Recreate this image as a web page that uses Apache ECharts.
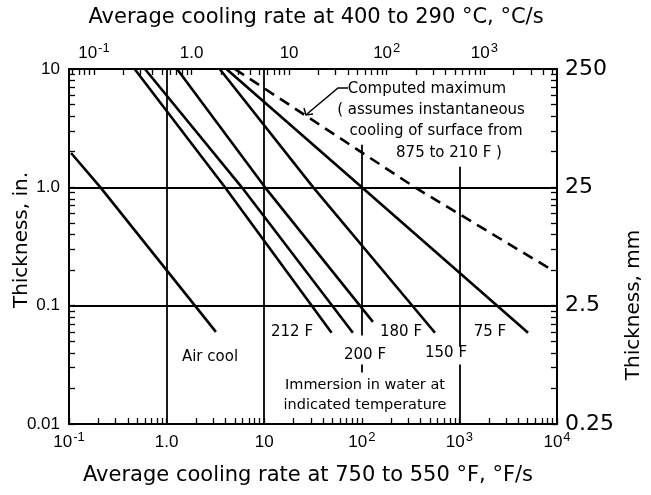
<!DOCTYPE html>
<html><head><meta charset="utf-8">
<script src="https://cdn.jsdelivr.net/npm/echarts@6/dist/echarts.min.js"></script>
<style>html,body{margin:0;padding:0;background:#fff}#c{width:651px;height:495px}</style>
</head><body><div id="c"></div>
<script>
// ---- data: average cooling rate (°F/s) vs thickness (in.) ----
const airCoolRate  = [0.105, 0.21, 3.2];
const airCoolThick = [1.95, 1.0, 0.06];
const w212Rate  = [0.47, 3.96, 49];
const w212Thick = [10, 1.0, 0.059];
const w200Rate  = [0.60, 5.9, 81];
const w200Thick = [10, 1.0, 0.059];
const w180Rate  = [1.28, 10.2, 130];
const w180Thick = [10, 1.0, 0.073];
const w150Rate  = [3.5, 31.8, 562];
const w150Thick = [10, 1.0, 0.059];
const w75Rate   = [4.1, 100, 5050];
const w75Thick  = [10, 1.0, 0.059];
const maxRate   = [5.0, 350, 8900];
const maxThick  = [10, 1.0, 0.2];

// ---- tick labels ----
const bottomTicks = [0.1, 1, 10, 100, 1000, 10000];
const bottomTickLabels = ['10|-1', '1.0', '10', '10|2', '10|3', '10|4'];
const topTicks = [0.1, 1, 10, 100, 1000];            // °C/s
const topTickLabels = ['10|-1', '1.0', '10', '10|2', '10|3'];
const leftTicks = [0.01, 0.1, 1, 10];
const leftTickLabels = ['0.01', '0.1', '1.0', '10'];
const rightTickLabels = ['0.25', '2.5', '25', '250'];

const NUMF = '"Liberation Sans", Arial, sans-serif';
const TXTF = '"DejaVu Sans", sans-serif';
const F_TO_C = 1 / 1.8;

function pair(xs, ys) { return xs.map((x, i) => [x, ys[i]]); }
function idxOf(arr, v) {
  let best = 0, bd = Infinity;
  arr.forEach((a, i) => { const d = Math.abs(Math.log10(a) - Math.log10(v)); if (d < bd) { bd = d; best = i; } });
  return best;
}
function rich(lbl) {
  const p = lbl.split('|');
  return p.length > 1 ? '{b|' + p[0] + '}{s|' + p[1] + '}' : '{b|' + p[0] + '}';
}
function logMinor(lo, hi) {
  const out = [];
  for (let e = Math.floor(Math.log10(lo)) - 1; e <= Math.ceil(Math.log10(hi)); e++) {
    for (let k = 1; k <= 9; k++) {
      const v = k * Math.pow(10, e);
      if (v >= lo * 0.9999 && v <= hi * 1.0001) out.push(v);
    }
  }
  return out;
}
const richStyle = {
  b: { fontSize: 17, fontFamily: NUMF, color: '#000', lineHeight: 22 },
  s: { fontSize: 13, fontFamily: NUMF, color: '#000', lineHeight: 22, verticalAlign: 'top', padding: [0, 0, 14, 1] }
};

const topMin = Math.log10(0.1 * F_TO_C), topMax = Math.log10(10000 * F_TO_C);
const topMinor = logMinor(0.1 * F_TO_C, 10000 * F_TO_C).map(v => Math.log10(v));

const axisLineStyle = { show: true, onZero: false, lineStyle: { color: '#000', width: 2 } };
const tickStyle = { color: '#000', width: 1.3 };
const solid = (name, xs, ys) => ({
  name, type: 'line', data: pair(xs, ys), showSymbol: false, symbol: 'none', z: 5,
  lineStyle: { color: '#000', width: 2.6 }
});
const txt = (s, x, y, size, extra) => Object.assign({
  type: 'text', z: 100, x, y,
  style: { text: s, font: size + 'px ' + TXTF, fill: '#000', align: 'center', verticalAlign: 'middle' }
}, extra || {});

const chart = echarts.init(document.getElementById('c'), null, { renderer: 'canvas' });
chart.setOption({
  backgroundColor: '#fff',
  animation: false,
  grid: { left: 69, right: 94, top: 69, bottom: 71 },
  xAxis: [
    {
      type: 'log', logBase: 10, min: 0.1, max: 10000, position: 'bottom',
      axisLine: axisLineStyle,
      axisTick: { show: true, inside: true, length: 6, lineStyle: tickStyle, customValues: logMinor(0.1, 10000) },
      axisLabel: { customValues: bottomTicks, margin: 7, rich: richStyle,
        formatter: v => rich(bottomTickLabels[idxOf(bottomTicks, v)]) },
      splitLine: { show: false }
    },
    {
      type: 'value', min: topMin, max: topMax, position: 'top',
      axisLine: axisLineStyle,
      axisTick: { show: true, inside: true, length: 6, lineStyle: tickStyle, customValues: topMinor },
      axisLabel: { customValues: topTicks.map(v => Math.log10(v)), margin: 5, rich: richStyle,
        formatter: v => rich(topTickLabels[idxOf(topTicks, Math.pow(10, v))]) },
      splitLine: { show: false }
    }
  ],
  yAxis: [
    {
      type: 'log', logBase: 10, min: 0.01, max: 10, position: 'left',
      axisLine: axisLineStyle,
      axisTick: { show: true, inside: true, length: 6, lineStyle: tickStyle, customValues: logMinor(0.01, 10) },
      axisLabel: { customValues: leftTicks, margin: 9, fontSize: 17, fontFamily: NUMF, color: '#000',
        formatter: v => leftTickLabels[idxOf(leftTicks, v)] },
      splitLine: { show: false }
    },
    {
      type: 'log', logBase: 10, min: 0.01, max: 10, position: 'right',
      axisLine: axisLineStyle,
      axisTick: { show: true, inside: true, length: 6, lineStyle: tickStyle, customValues: logMinor(0.01, 10) },
      axisLabel: { customValues: leftTicks, margin: 8, fontSize: 22, fontFamily: TXTF, color: '#000',
        formatter: v => rightTickLabels[idxOf(leftTicks, v)] },
      splitLine: { show: false }
    }
  ],
  series: [
    {
      name: 'grid', type: 'line', data: [], z: 1, silent: true,
      markLine: {
        silent: true, symbol: 'none', animation: false,
        label: { show: false },
        lineStyle: { color: '#000', width: 1.8, type: 'solid' },
        data: [
          { xAxis: 1 }, { xAxis: 10 }, { yAxis: 1 }, { yAxis: 0.1 },
          [{ coord: [100, 2.29] }, { coord: [100, 0.056] }],
          [{ coord: [100, 0.0318] }, { coord: [100, 0.0272] }],
          [{ coord: [1000, 1.49] }, { coord: [1000, 0.045] }],
          [{ coord: [1000, 0.0318] }, { coord: [1000, 0.01] }]
        ]
      }
    },
    solid('Air cool', airCoolRate, airCoolThick),
    solid('212 F', w212Rate, w212Thick),
    solid('200 F', w200Rate, w200Thick),
    solid('180 F', w180Rate, w180Thick),
    solid('150 F', w150Rate, w150Thick),
    solid('75 F', w75Rate, w75Thick),
    {
      name: 'Computed maximum', type: 'line', data: pair(maxRate, maxThick), showSymbol: false, symbol: 'none', z: 5,
      lineStyle: { color: '#000', width: 2.6, type: [11, 7] }
    }
  ],
  graphic: [
    txt('Average cooling rate at 400 to 290 °C, °C/s', 316, 18, 21),
    txt('Average cooling rate at 750 to 550 °F, °F/s', 308, 476, 21),
    txt('Thickness, in.', 22, 240, 20, { rotation: Math.PI / 2 }),
    txt('Thickness, mm', 634, 305, 20, { rotation: Math.PI / 2 }),
    txt('Air cool', 210, 357, 15),
    txt('212 F', 292, 332, 15),
    txt('200 F', 365, 355, 15),
    txt('180 F', 401, 332, 15),
    txt('150 F', 446, 353, 15),
    txt('75 F', 490, 332, 15),
    txt('Immersion in water at', 365, 385, 14.5),
    txt('indicated temperature', 365, 405, 14.5),
    txt('Computed maximum', 427, 89, 15),
    txt('( assumes instantaneous', 431, 110, 15),
    txt('cooling of surface from', 436, 131, 15),
    txt('875 to 210 F )', 449, 153, 15),
    { type: 'polyline', z: 100, shape: { points: [[348, 88], [338, 88], [307, 114]] }, style: { stroke: '#000', lineWidth: 1.5, fill: null } },
    { type: 'polyline', z: 100, shape: { points: [[304, 108], [306, 115], [313, 114]] }, style: { stroke: '#000', lineWidth: 1.5, fill: null } }
  ]
});
</script></body></html>
